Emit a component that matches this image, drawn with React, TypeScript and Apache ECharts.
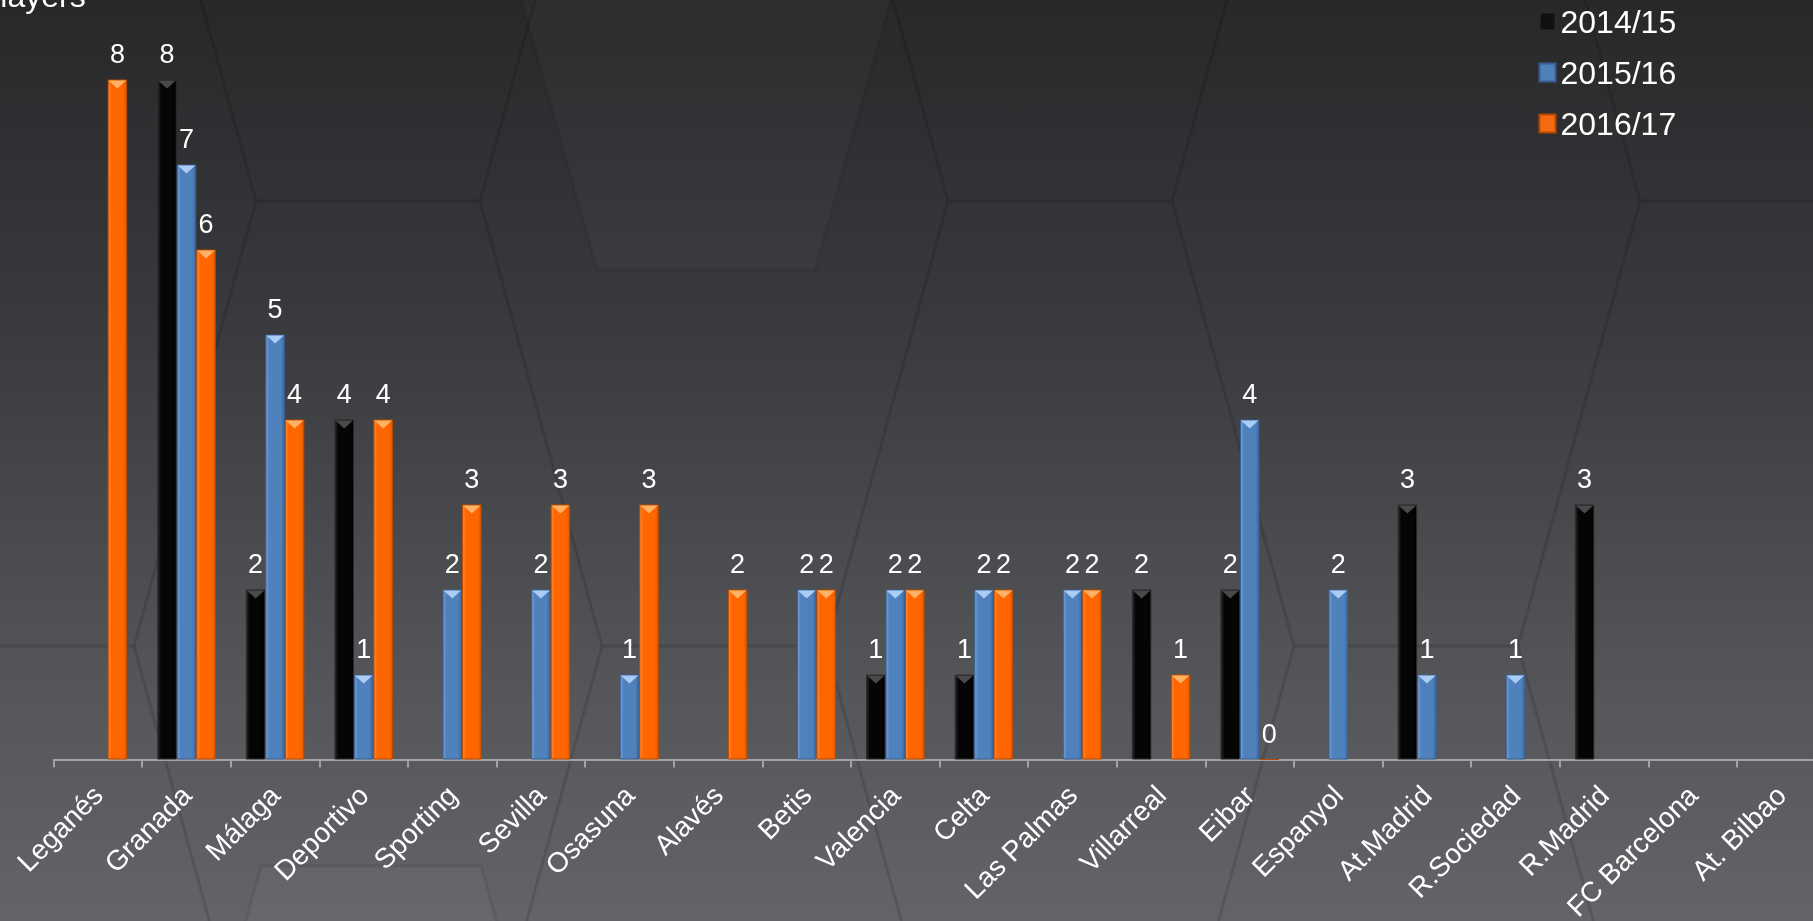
import React, { useEffect, useRef } from "react";
import * as echarts from "echarts";

const categories = [
  "Leganés", "Granada", "Málaga", "Deportivo", "Sporting", "Sevilla", "Osasuna", "Alavés",
  "Betis", "Valencia", "Celta", "Las Palmas", "Villarreal", "Eibar", "Espanyol", "At.Madrid",
  "R.Sociedad", "R.Madrid", "FC Barcelona", "At. Bilbao",
];
const seasons = ["2014/15", "2015/16", "2016/17"];
const s1415 = [null, 8, 2, 4, null, null, null, null, null, 1, 1, null, 2, 2, null, 3, null, 3, null, null];
const s1516 = [null, 7, 5, 1, 2, 2, 1, null, 2, 2, 2, 2, null, 4, 2, 1, 1, null, null, null];
const s1617 = [8, 6, 4, 4, 3, 3, 3, 2, 2, 2, 2, 2, 1, 0, null, null, null, null, null, null];
const yTitle = "Players";

const FONT = 'Arial, "Liberation Sans", sans-serif';

const palette = [
  { base: "#050505", light: "#2a2a2a", dark: "#000000", border: "#2b2b2b", tip: "#4a4a4a", legend: "#111111" },
  { base: "#4f81bd", light: "#77a3da", dark: "#3c6aa3", border: "#3a5f8f", tip: "#a9cdf5", legend: "#4f81bd" },
  { base: "#ff6600", light: "#ff8a3a", dark: "#e05a00", border: "#b84a00", tip: "#ffb266", legend: "#f46a10" },
];

function hexPts(xc: number, yt: number, a: number, W: number, H: number) {
  return [
    [xc - a, yt], [xc + a, yt], [xc + W, yt + H],
    [xc + a, yt + 2 * H], [xc - a, yt + 2 * H], [xc - W, yt + H],
  ];
}

function hexGrid() {
  const els: any[] = [];
  const a = 112, W = 234, H = 445;
  for (let k = -3; k <= 2; k++) {
    const xc = 1060 + 346 * k;
    const yt0 = Math.abs(k) % 2 === 0 ? 201 : 646;
    for (let j = -1; j <= 0; j++) {
      const yt = yt0 + 2 * H * j;
      els.push({
        type: "polygon",
        z: -50,
        silent: true,
        shape: { points: hexPts(xc, yt, a, W, H) },
        style: {
          fill: "rgba(0,0,0,0)",
          stroke: "rgba(0,0,0,0.06)",
          lineWidth: 3,
        },
      });
    }
  }
  // soft lighter cells
  els.push({
    type: "polygon",
    z: -49,
    silent: true,
    shape: { points: hexPts(706, -620, 109, 234, 445) },
    style: { fill: "rgba(255,255,255,0.022)", stroke: "rgba(0,0,0,0.07)", lineWidth: 3 },
  });
  els.push({
    type: "polygon",
    z: -49,
    silent: true,
    shape: { points: hexPts(371, 866, 110, 234, 445) },
    style: { fill: "rgba(255,255,255,0.03)", stroke: "rgba(0,0,0,0.08)", lineWidth: 3 },
  });
  return els;
}

export default function App() {
  const ref = useRef<HTMLDivElement>(null);
  useEffect(() => {
    if (!ref.current) return;
    const chart = echarts.init(ref.current, null, { renderer: "svg" });
    const data = [s1415, s1516, s1617];
    const BW = 19.5;
    const barSeries = data.map((d, i) => ({
      name: seasons[i],
      type: "bar",
      data: d,
      barWidth: BW,
      barGap: "0%",
      z: 2,
      itemStyle: {
        color: new echarts.graphic.LinearGradient(0, 0, 1, 0, [
          { offset: 0, color: palette[i].light },
          { offset: 0.18, color: palette[i].base },
          { offset: 0.8, color: palette[i].base },
          { offset: 1, color: palette[i].dark },
        ]),
        borderColor: palette[i].border,
        borderWidth: 1,
      },
      label: {
        show: true,
        position: "top",
        distance: 12,
        color: "#ffffff",
        fontSize: 27,
        fontFamily: FONT,
      },
    }));
    const tipSeries = data.map((d, i) => ({
      name: seasons[i] + " tip",
      type: "pictorialBar",
      data: d.map((v) => (v && v > 0 ? v : null)),
      barWidth: BW,
      barGap: "0%",
      symbol: "path://M0,0 L20,0 L10,8 Z",
      symbolSize: [BW - 2, 8],
      symbolPosition: "end",
      symbolOffset: [0, 1],
      z: 3,
      silent: true,
      itemStyle: { color: palette[i].tip },
    }));
    chart.setOption({
      animation: false,
      graphic: [
        {
          type: "rect",
          z: -100,
          silent: true,
          shape: { x: 0, y: 0, width: 1813, height: 921 },
          style: {
            fill: new echarts.graphic.LinearGradient(0, 0, 0, 1, [
              { offset: 0, color: "#28282a" },
              { offset: 0.35, color: "#393a3e" },
              { offset: 0.75, color: "#55565a" },
              { offset: 1, color: "#636468" },
            ]),
          },
        },
        ...hexGrid(),
        {
          type: "text",
          x: -21,
          y: -4,
          z: 10,
          style: {
            text: yTitle,
            fill: "#ffffff",
            font: `32px ${FONT}`,
            verticalAlign: "middle",
          },
        },
      ],
      legend: {
        orient: "vertical",
        left: 1533.5,
        top: 0.5,
        itemWidth: 16,
        itemHeight: 18,
        itemGap: 19,
        icon: "rect",
        textStyle: { color: "#ffffff", fontSize: 32, fontFamily: FONT },
        data: seasons.map((s, i) => ({ name: s, itemStyle: { color: palette[i].legend } })),
      },
      grid: {
        left: 53.6,
        top: 79.5,
        width: 1772,
        height: 680,
        outerBoundsMode: "none",
      },
      xAxis: {
        type: "category",
        data: categories,
        axisLine: { show: true, lineStyle: { color: "#a3a3a3", width: 2 } },
        axisTick: { show: true, length: 8, lineStyle: { color: "#a3a3a3", width: 2 } },
        axisLabel: {
          interval: 0,
          rotate: 45,
          color: "#ffffff",
          fontSize: 28,
          fontFamily: FONT,
          margin: 31,
        },
      },
      yAxis: {
        type: "value",
        min: 0,
        max: 8,
        show: false,
        splitLine: { show: false },
      },
      series: [...barSeries, ...tipSeries],
    });
    return () => chart.dispose();
  }, []);
  return (
    <div
      ref={ref}
      style={{ position: "fixed", left: 0, top: 0, width: 1813, height: 921 }}
    />
  );
}
